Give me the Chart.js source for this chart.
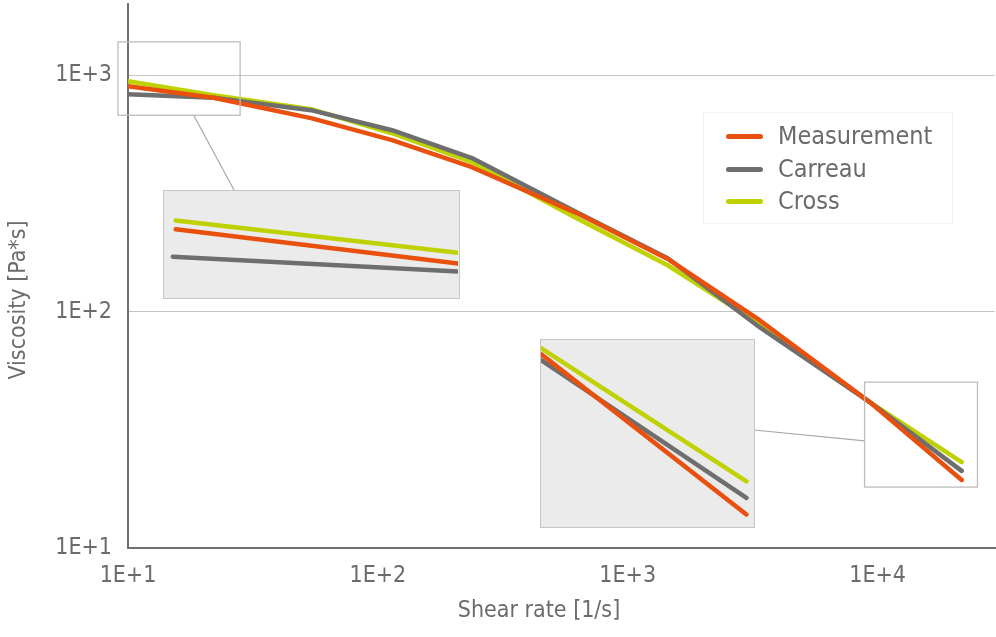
<!DOCTYPE html>
<html>
<head>
<meta charset="utf-8">
<script src="https://cdn.jsdelivr.net/npm/chart.js@4/dist/chart.umd.min.js"></script>
<style>
  html, body { margin: 0; padding: 0; background: #ffffff; }
  #wrap { position: relative; width: 996px; height: 637px; overflow: hidden; }
  #main { position: absolute; left: 0; top: 0; }
  .inset { position: absolute; background: #ebebeb; border: 1.5px solid #c6c6c6; box-sizing: border-box; }
  .inset canvas { display: block; }
  #legend { position: absolute; left: 703px; top: 112px; width: 250px; height: 112px; border: 1px solid #f4f4f4; box-sizing: border-box; }
  .li { position: absolute; left: 0; height: 30px; }
  .li .sw { position: absolute; left: 22px; width: 37px; height: 5px; border-radius: 3px; }
  .li .tx { position: absolute; left: 74px; white-space: nowrap; color: #6b6b6b; }
</style>
</head>
<body>
<div id="wrap">
  <canvas id="main" width="996" height="637"></canvas>
  <div class="inset" id="box1" style="left:163px; top:190px; width:297px; height:109px;"><canvas id="inset1"></canvas></div>
  <div class="inset" id="box2" style="left:540px; top:339px; width:215px; height:189px;"><canvas id="inset2"></canvas></div>
  <div id="legend"></div>
</div>
<script>
// ---- data ----
const shearRate   = [10, 22, 54, 114, 238, 625, 1445, 3280, 9300, 21700];
const measurement = [898, 802, 658, 531, 408, 261, 167, 93.9, 41.4, 19.4];
const carreau     = [831, 802, 711, 585, 446, 263, 168, 87.7, 41.4, 21.2];
const cross       = [943, 823, 718, 568, 429, 248, 157, 90.3, 41.4, 23.1];
const xTickValues = [10, 100, 1000, 10000];
const yTickValues = [10, 100, 1000];
const seriesNames = ['Measurement', 'Carreau', 'Cross'];
const xTitle = 'Shear rate [1/s]';
const yTitle = 'Viscosity [Pa*s]';

// zoom windows (data units of main chart): [xMin, xMax, yMin, yMax]
const zoom1Window = [9.12, 28.1, 677, 1383];
const zoom2Window = [8870, 25100, 18.1, 50.3];

// inset (magnified schematic) series, relative units 0-100
const inset1X           = [4, 100];
const inset1Measurement = [63.9, 31.5];
const inset1CarreauX    = [3, 100];
const inset1Carreau     = [38.0, 24.1];
const inset1Cross       = [72.2, 41.7];
const inset2X           = [0, 96.9];
const inset2Measurement = [92.4, 6.2];
const inset2Carreau     = [89.2, 15.1];
const inset2Cross       = [95.6, 24.0];

const colors = { Measurement: '#e9500e', Carreau: '#6e6e6e', Cross: '#bfd200' };
const FONT = "'DejaVu Sans Condensed', 'Liberation Sans Narrow', 'DejaVu Sans', sans-serif";
const TXT = '#6b6b6b';

function pts(xs, ys) { return xs.map((x, i) => ({ x: x, y: ys[i] })); }
function ds(name, data, w) {
  return { label: name, data: data, borderColor: colors[name], backgroundColor: colors[name],
           borderWidth: w, pointRadius: 0, tension: 0, borderCapStyle: 'round', borderJoinStyle: 'round', fill: false };
}

const decor = {
  id: 'decor',
  afterDatasetsDraw(chart) {
    const ctx = chart.ctx, xs = chart.scales.x, ys = chart.scales.y;
    ctx.save();
    ctx.strokeStyle = '#bdbdbd';
    ctx.lineWidth = 1.3;
    const r1 = [xs.getPixelForValue(zoom1Window[0]), ys.getPixelForValue(zoom1Window[3]),
                xs.getPixelForValue(zoom1Window[1]), ys.getPixelForValue(zoom1Window[2])];
    const r2 = [xs.getPixelForValue(zoom2Window[0]), ys.getPixelForValue(zoom2Window[3]),
                xs.getPixelForValue(zoom2Window[1]), ys.getPixelForValue(zoom2Window[2])];
    ctx.strokeRect(r1[0], r1[1], r1[2] - r1[0], r1[3] - r1[1]);
    ctx.strokeRect(r2[0], r2[1], r2[2] - r2[0], r2[3] - r2[1]);
    ctx.strokeStyle = '#a8a8a8';
    ctx.lineWidth = 1.2;
    ctx.beginPath();
    ctx.moveTo(r1[0] + (r1[2] - r1[0]) * 0.62, r1[3]);
    ctx.lineTo(234, 190);
    ctx.moveTo(754, 430);
    ctx.lineTo(r2[0], r2[1] + (r2[3] - r2[1]) * 0.56);
    ctx.stroke();
    ctx.restore();
  },
  afterDraw(chart) {
    const ctx = chart.ctx;
    ctx.save();
    ctx.fillStyle = TXT;
    ctx.font = '23px ' + FONT;
    ctx.textAlign = 'center';
    ctx.textBaseline = 'middle';
    ctx.fillText(xTitle, 539, 611);
    ctx.translate(19, 300);
    ctx.rotate(-Math.PI / 2);
    ctx.fillText(yTitle, 0, 0);
    ctx.restore();
  }
};

const mainChart = new Chart(document.getElementById('main'), {
  type: 'line',
  data: {
    datasets: [
      ds('Measurement', pts(shearRate, measurement), 4.5),
      ds('Carreau', pts(shearRate, carreau), 4.5),
      ds('Cross', pts(shearRate, cross), 4.5)
    ]
  },
  options: {
    responsive: false,
    animation: false,
    devicePixelRatio: 1,
    layout: { padding: { top: 4, right: 1, left: 0, bottom: 0 } },
    plugins: { legend: { display: false }, tooltip: { enabled: false } },
    scales: {
      x: {
        type: 'logarithmic', min: 10, max: 29500,
        afterBuildTicks(s) { s.ticks = xTickValues.map(v => ({ value: v })); },
        afterFit(s) { s.height = 89; s.paddingLeft = 0; s.paddingRight = 0; },
        grid: { display: false, drawTicks: false },
        border: { display: true, color: '#707070', width: 2 },
        ticks: { color: TXT, font: { family: FONT, size: 23 }, padding: 14, maxRotation: 0, autoSkip: false,
                 callback: v => '1E+' + Math.round(Math.log10(v)) }
      },
      y: {
        type: 'logarithmic', min: 10, max: 2000,
        afterBuildTicks(s) { s.ticks = yTickValues.map(v => ({ value: v })); },
        afterFit(s) { s.width = 128; s.paddingTop = 0; s.paddingBottom = 0; },
        grid: { display: true, color: '#c4c4c4', lineWidth: 1, drawTicks: false },
        border: { display: true, color: '#707070', width: 2 },
        ticks: { color: TXT, font: { family: FONT, size: 23 }, padding: 16, autoSkip: false,
                 callback: v => '1E+' + Math.round(Math.log10(v)) }
      }
    }
  },
  plugins: [decor]
});

function insetChart(id, w, h, sets) {
  const c = document.getElementById(id);
  c.width = w; c.height = h;
  c.style.width = w + 'px'; c.style.height = h + 'px';
  return new Chart(c, {
    type: 'line',
    data: { datasets: sets },
    options: {
      responsive: false, animation: false, devicePixelRatio: 1,
      layout: { padding: 0 },
      plugins: { legend: { display: false }, tooltip: { enabled: false } },
      scales: {
        x: { type: 'linear', min: 0, max: 100, display: false },
        y: { type: 'linear', min: 0, max: 100, display: false }
      }
    }
  });
}
const inset1Sets = [
  ds('Measurement', pts(inset1X, inset1Measurement), 4.5),
  ds('Carreau', pts(inset1CarreauX, inset1Carreau), 4.5),
  ds('Cross', pts(inset1X, inset1Cross), 4.5)
];
inset1Sets.forEach(d => d.clip = 0);
insetChart('inset1', 294, 106, inset1Sets);
const inset2Sets = [
  ds('Measurement', pts(inset2X, inset2Measurement), 4.5),
  ds('Carreau', pts(inset2X, inset2Carreau), 4.5),
  ds('Cross', pts(inset2X, inset2Cross), 4.5)
];
inset2Sets.forEach(d => d.clip = 0);
insetChart('inset2', 212, 186, inset2Sets);

// legend (built from chart datasets)
const lg = document.getElementById('legend');
mainChart.data.datasets.forEach((d, i) => {
  const row = document.createElement('div');
  row.className = 'li';
  row.style.top = (8 + i * 32.7) + 'px';
  row.style.width = '100%';
  const sw = document.createElement('div');
  sw.className = 'sw'; sw.style.background = d.borderColor; sw.style.top = '13px';
  const tx = document.createElement('div');
  tx.className = 'tx'; tx.textContent = d.label;
  tx.style.font = '25px ' + FONT; tx.style.top = '0px'; tx.style.lineHeight = '30px';
  row.appendChild(sw); row.appendChild(tx);
  lg.appendChild(row);
});
</script>
</body>
</html>
